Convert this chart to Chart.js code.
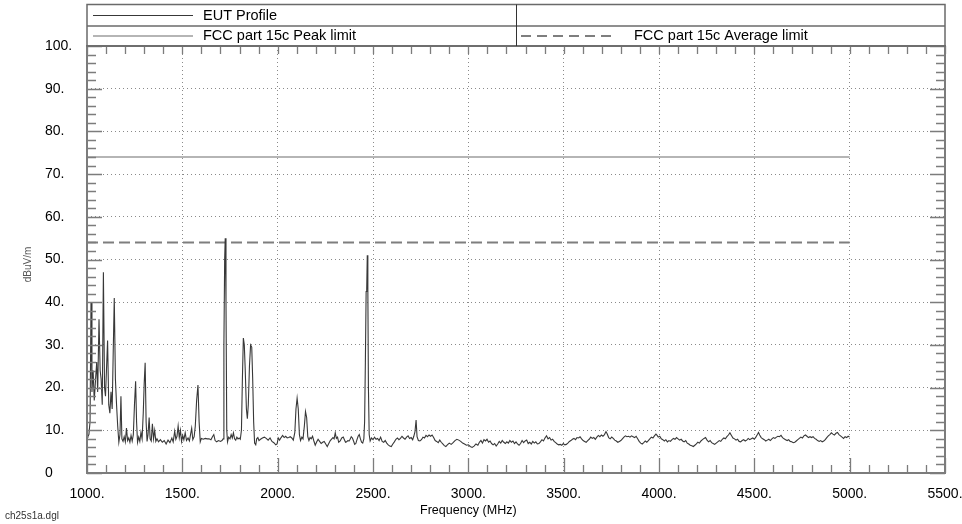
<!DOCTYPE html>
<html>
<head>
<meta charset="utf-8">
<script src="https://cdn.jsdelivr.net/npm/chart.js@4.4.1/dist/chart.umd.min.js"></script>
<style>
  html, body { margin: 0; padding: 0; background: #fff; }
  canvas { display: block; }
</style>
</head>
<body>
<canvas id="c" width="962" height="524"></canvas>
<script>
// Radiated emission scan, 1 GHz - 5 GHz
const freqMHz = [
  1000, 1005, 1010, 1016, 1021, 1026, 1032, 1038, 1045, 1051, 1056, 1063, 1069, 1074, 1080, 1086,
  1092, 1097, 1102, 1108, 1114, 1120, 1126, 1132, 1137, 1143, 1149, 1155, 1161, 1167, 1173, 1178,
  1183, 1189, 1195, 1201, 1207, 1213, 1219, 1225, 1231, 1237, 1243, 1249, 1255, 1260, 1265, 1271,
  1277, 1283, 1289, 1295, 1300, 1305, 1310, 1315, 1320, 1326, 1331, 1337, 1343, 1349, 1355, 1361,
  1367, 1375, 1385, 1395, 1405, 1415, 1425, 1435, 1445, 1452, 1460, 1466, 1472, 1478, 1484, 1490,
  1496, 1502, 1508, 1515, 1522, 1530, 1537, 1543, 1549, 1555, 1562, 1568, 1575, 1582, 1588, 1594,
  1600, 1610, 1620, 1630, 1640, 1650, 1658, 1665, 1672, 1680, 1690, 1700, 1708, 1714, 1718, 1722,
  1725, 1729, 1733, 1737, 1743, 1750, 1756, 1762, 1768, 1774, 1780, 1786, 1792, 1798, 1804, 1810,
  1815, 1820, 1825, 1830, 1836, 1841, 1846, 1852, 1858, 1864, 1869, 1874, 1879, 1885, 1890, 1896,
  1902, 1910, 1920, 1930, 1940, 1950, 1960, 1970, 1980, 1990, 1997, 2003, 2010, 2018, 2026, 2034,
  2042, 2050, 2058, 2066, 2074, 2082, 2090, 2096, 2102, 2108, 2114, 2120, 2127, 2133, 2140, 2146,
  2152, 2158, 2164, 2170, 2176, 2183, 2190, 2197, 2205, 2212, 2220, 2228, 2236, 2244, 2252, 2260,
  2268, 2276, 2284, 2290, 2296, 2302, 2308, 2314, 2320, 2328, 2336, 2344, 2350, 2356, 2362, 2368,
  2374, 2380, 2386, 2392, 2398, 2404, 2410, 2416, 2422, 2428, 2434, 2440, 2446, 2452, 2456, 2460,
  2464, 2467, 2470, 2473, 2476, 2480, 2485, 2492, 2500, 2508, 2516, 2524, 2532, 2540, 2548, 2556,
  2564, 2572, 2580, 2588, 2596, 2604, 2612, 2620, 2628, 2636, 2644, 2652, 2660, 2668, 2676, 2684,
  2692, 2700, 2708, 2714, 2720, 2726, 2731, 2738, 2746, 2754, 2762, 2770, 2778, 2786, 2794, 2802,
  2810, 2818, 2826, 2834, 2842, 2850, 2858, 2866, 2874, 2882, 2890, 2900, 2910, 2920, 2930, 2940,
  2950, 2960, 2970, 2980, 2990, 3000, 3010, 3020, 3030, 3040, 3050, 3058, 3066, 3074, 3082, 3090,
  3098, 3106, 3114, 3122, 3130, 3138, 3146, 3154, 3162, 3170, 3178, 3186, 3194, 3202, 3210, 3218,
  3226, 3234, 3242, 3250, 3258, 3266, 3274, 3282, 3290, 3298, 3306, 3314, 3322, 3330, 3338, 3346,
  3354, 3362, 3370, 3378, 3386, 3394, 3402, 3410, 3418, 3426, 3434, 3442, 3450, 3458, 3466, 3474,
  3482, 3490, 3498, 3506, 3514, 3522, 3530, 3538, 3546, 3554, 3562, 3570, 3578, 3586, 3594, 3602,
  3610, 3618, 3626, 3634, 3642, 3650, 3658, 3666, 3674, 3682, 3690, 3698, 3706, 3714, 3722, 3728,
  3736, 3744, 3752, 3760, 3768, 3776, 3784, 3792, 3800, 3808, 3816, 3824, 3832, 3840, 3848, 3856,
  3864, 3872, 3880, 3888, 3896, 3904, 3912, 3920, 3928, 3936, 3944, 3952, 3960, 3968, 3976, 3984,
  3990, 3996, 4004, 4012, 4020, 4028, 4036, 4044, 4052, 4060, 4068, 4076, 4084, 4092, 4100, 4108,
  4116, 4124, 4132, 4140, 4148, 4156, 4164, 4172, 4180, 4188, 4196, 4204, 4212, 4220, 4228, 4236,
  4244, 4252, 4260, 4268, 4276, 4284, 4292, 4300, 4308, 4316, 4324, 4332, 4340, 4348, 4356, 4364,
  4372, 4380, 4388, 4396, 4404, 4412, 4420, 4428, 4436, 4444, 4452, 4460, 4468, 4476, 4484, 4492,
  4500, 4508, 4516, 4522, 4528, 4536, 4544, 4552, 4560, 4568, 4576, 4584, 4592, 4600, 4608, 4616,
  4624, 4632, 4640, 4648, 4656, 4664, 4672, 4680, 4688, 4696, 4704, 4712, 4720, 4728, 4736, 4744,
  4752, 4760, 4768, 4776, 4784, 4792, 4800, 4808, 4816, 4824, 4832, 4840, 4848, 4856, 4864, 4872,
  4880, 4888, 4896, 4904, 4912, 4920, 4928, 4936, 4944, 4952, 4960, 4968, 4976, 4984, 4992, 5000
];

const eutLevel = [
  8.4, 8.6, 9.0, 12, 40, 19, 24, 17, 22, 26, 19, 36, 24, 22, 16, 47,
  20, 18, 24, 31, 16, 14, 19, 15, 27, 41, 22, 16, 11, 7.2, 9.0, 18,
  8.0, 7.4, 8.5, 7.3, 10.5, 7.6, 8.2, 7.2, 8.8, 7.5, 9.0, 16, 21.5, 12, 7.2, 8.4,
  7.4, 9.5, 8.0, 14, 21, 25.8, 12, 7.4, 9.0, 13, 8.0, 7.5, 11.5, 8.0, 10, 7.4,
  8.0, 7.3, 7.8, 7.2, 7.6, 6.8, 7.7, 7.1, 8.2, 7.3, 9.8, 7.9, 8.6, 11, 8.3, 10,
  7.4, 8.8, 7.8, 9.4, 7.6, 8.2, 7.5, 9.0, 10.5, 7.8, 8.5, 11, 17, 20.6, 12, 7.3,
  8.1, 7.9, 8.1, 8.0, 8.0, 7.8, 8.5, 9.0, 7.6, 7.3, 7.6, 7.4, 7.6, 8.0, 30, 50,
  55, 40, 10, 7.3, 8.4, 8.0, 9.0, 8.2, 9.4, 8.0, 7.7, 8.4, 8.0, 8.2, 7.9, 10,
  22, 31.6, 30, 24, 15, 12.7, 16, 25, 30, 29.5, 22, 12, 7.0, 6.6, 8.0, 8.3,
  7.6, 7.9, 8.2, 8.4, 8.1, 7.7, 8.2, 7.4, 7.1, 6.6, 6.8, 8.2, 7.7, 8.3, 8.8, 8.3,
  8.6, 8.2, 8.3, 8.5, 8.2, 7.7, 9.5, 15, 17.5, 15, 9.0, 7.6, 8.4, 8.0, 11, 14.4,
  13, 8.5, 7.6, 8.3, 8.0, 8.6, 7.5, 6.5, 7.3, 7.9, 7.4, 6.9, 7.2, 7.4, 6.8, 6.2,
  6.9, 7.6, 8.0, 8.3, 8.0, 9.4, 8.1, 8.4, 7.2, 7.5, 8.2, 8.4, 7.8, 7.2, 7.3, 7.6,
  7.5, 7.9, 8.5, 8.2, 7.5, 6.7, 6.9, 7.8, 8.6, 9.0, 8.0, 7.2, 7.0, 8.0, 12, 26,
  42.5, 43, 51, 43, 20, 9.0, 7.5, 8.2, 7.8, 8.4, 7.9, 8.1, 7.6, 8.4, 7.4, 7.2,
  7.6, 7.0, 6.6, 6.3, 6.2, 6.8, 7.3, 7.9, 8.2, 7.8, 8.1, 8.6, 8.2, 7.9, 8.4, 8.7,
  8.1, 8.3, 7.8, 8.6, 9.6, 12.4, 8.5, 7.6, 7.5, 7.8, 8.4, 8.2, 8.8, 8.5, 8.9, 8.6,
  8.9, 8.3, 7.6, 7.4, 7.1, 7.7, 7.2, 6.8, 6.4, 6.2, 6.6, 7.0, 6.7, 7.1, 7.6, 7.9,
  7.7, 7.4, 7.0, 6.8, 6.5, 6.6, 6.2, 6.0, 6.3, 6.8, 6.5, 7.2, 7.6, 7.0, 7.8, 7.5,
  7.9, 7.2, 7.5, 6.9, 6.6, 6.9, 6.3, 6.8, 7.4, 7.0, 7.6, 7.2, 6.9, 7.3, 7.0, 7.6,
  7.2, 7.5, 6.9, 7.3, 6.8, 6.5, 6.9, 7.6, 7.1, 7.5, 7.7, 6.9, 7.2, 6.8, 7.4, 7.0,
  7.3, 6.8, 6.9, 7.3, 7.8, 7.5, 8.2, 8.7, 8.0, 8.3, 7.7, 7.9, 7.4, 7.1, 6.8, 6.6,
  6.7, 6.5, 6.9, 6.6, 6.7, 7.0, 7.4, 7.6, 7.9, 8.1, 7.8, 8.3, 8.2, 8.5, 8.0, 7.6,
  7.4, 7.2, 7.6, 7.9, 8.4, 8.1, 8.3, 7.9, 8.4, 8.8, 8.5, 8.9, 8.6, 9.0, 9.7, 9.2,
  8.3, 8.0, 8.4, 8.1, 7.7, 7.5, 7.2, 7.4, 7.6, 8.0, 8.4, 8.7, 8.5, 8.6, 8.4, 8.7,
  8.5, 8.3, 8.6, 8.0, 7.4, 7.0, 6.8, 7.1, 7.5, 7.2, 7.6, 8.0, 8.4, 8.2, 8.7, 9.1,
  8.8, 8.4, 8.6, 8.0, 7.8, 7.5, 7.8, 7.3, 7.6, 7.4, 7.8, 8.1, 7.9, 8.3, 8.0, 7.7,
  7.9, 7.5, 7.3, 7.6, 7.0, 6.8, 6.5, 6.4, 6.2, 6.5, 6.8, 7.2, 7.0, 7.5, 7.8, 8.1,
  8.3, 7.7, 7.3, 7.6, 7.1, 6.9, 6.7, 7.0, 7.3, 7.6, 7.4, 7.9, 8.2, 8.0, 8.5, 8.9,
  9.4, 8.8, 8.2, 8.0, 7.7, 7.9, 7.4, 7.3, 7.6, 7.8, 7.5, 7.7, 8.1, 7.8, 8.0, 8.2,
  7.9, 8.4, 9.0, 9.5, 8.9, 8.3, 8.0, 7.8, 7.5, 7.7, 7.9, 7.6, 8.0, 8.3, 8.1, 8.4,
  8.6, 8.5, 8.8, 8.3, 8.0, 7.8, 7.6, 7.8, 7.4, 7.3, 7.1, 7.2, 7.5, 7.8, 8.1, 8.4,
  8.2, 8.7, 8.9, 8.6, 8.3, 8.5, 8.3, 8.5, 8.1, 7.9, 7.6, 7.4, 7.6, 7.3, 7.5, 7.8,
  8.3, 8.7, 9.0, 9.4, 9.1, 8.9, 9.3, 9.5, 9.0, 8.7, 8.4, 8.1, 8.5, 8.3, 8.6, 8.4
];

// Limit lines (dBuV/m) over the measured band
const limitFreq = [1000, 5000];
const peakLimit = [74, 74];
const avgLimit = [54, 54];

const seriesNames = ['EUT Profile', 'FCC part 15c Peak limit', 'FCC part 15c Average limit'];

// Axis ticks
const xTickValues = [1000, 1500, 2000, 2500, 3000, 3500, 4000, 4500, 5000, 5500];
const xTickLabels = ['1000.', '1500.', '2000.', '2500.', '3000.', '3500.', '4000.', '4500.', '5000.', '5500.'];
const yTickValues = [0, 10, 20, 30, 40, 50, 60, 70, 80, 90, 100];
const yTickLabels = ['0', '10.', '20.', '30.', '40.', '50.', '60.', '70.', '80.', '90.', '100.'];

const xTitle = 'Frequency (MHz)';
const yTitle = 'dBuV/m';
const fileTag = 'ch25s1a.dgl';

const FONT = "'Liberation Sans', Arial, sans-serif";
const FRAME = '#7c7c7c';

const toPoints = (xs, ys) => xs.map((x, i) => ({ x, y: ys[i] }));

// Frame, inward minor/major tick marks, legend table and captions
const decorations = {
  id: 'decorations',
  afterDraw(chart) {
    const { ctx, chartArea: a, scales: { x, y } } = chart;
    ctx.save();

    // inward tick marks on all four sides
    ctx.strokeStyle = FRAME;
    ctx.lineWidth = 1.3;
    ctx.beginPath();
    for (let f = x.min; f <= x.max; f += 100) {
      const px = Math.round(x.getPixelForValue(f)) + 0.5;
      const len = (f % 500 === 0) ? 15 : 8;
      ctx.moveTo(px, a.bottom); ctx.lineTo(px, a.bottom - len);
      ctx.moveTo(px, a.top); ctx.lineTo(px, a.top + 8);
    }
    for (let v = y.min; v <= y.max; v += 2) {
      const py = Math.round(y.getPixelForValue(v)) + 0.5;
      const len = (v % 10 === 0) ? 15 : 9;
      ctx.moveTo(a.left, py); ctx.lineTo(a.left + len, py);
      ctx.moveTo(a.right, py); ctx.lineTo(a.right - len, py);
    }
    ctx.stroke();

    // plot frame
    ctx.lineWidth = 2;
    ctx.strokeRect(a.left, a.top, a.right - a.left, a.bottom - a.top);

    // legend table above the plot
    const top = 4.5, mid = 26, bot = a.top;
    const split = 516;
    ctx.strokeStyle = '#6a6a6a';
    ctx.lineWidth = 1.5;
    ctx.strokeRect(a.left, top, a.right - a.left, bot - top);
    ctx.beginPath();
    ctx.moveTo(a.left, mid); ctx.lineTo(a.right, mid);
    ctx.stroke();
    ctx.strokeStyle = '#333';
    ctx.lineWidth = 1;
    ctx.beginPath();
    ctx.moveTo(split + 0.5, top); ctx.lineTo(split + 0.5, bot);
    ctx.stroke();

    const row1 = 15.5, row2 = 36;
    const ds = chart.data.datasets;
    const sample = (x0, x1, yy, d, dash) => {
      ctx.save();
      ctx.strokeStyle = d.borderColor;
      ctx.lineWidth = d.borderWidth;
      ctx.setLineDash(dash || []);
      ctx.beginPath(); ctx.moveTo(x0, yy); ctx.lineTo(x1, yy); ctx.stroke();
      ctx.restore();
    };
    sample(93, 193, row1, ds[0]);
    sample(93, 193, row2, ds[1]);
    sample(521, 611, row2, ds[2], [10, 6]);

    ctx.fillStyle = '#000';
    ctx.font = `14.5px ${FONT}`;
    ctx.textBaseline = 'middle';
    ctx.textAlign = 'left';
    ctx.fillText(ds[0].label, 203, row1);
    ctx.fillText(ds[1].label, 203, row2);
    ctx.fillText(ds[2].label, 634, row2);

    // frequency axis caption, centred under the 3000 MHz mark
    ctx.fillStyle = '#000';
    ctx.font = `12.5px ${FONT}`;
    ctx.textAlign = 'center';
    ctx.fillText(xTitle, x.getPixelForValue(3000), 511);

    // vertical unit caption
    ctx.save();
    ctx.fillStyle = '#555';
    ctx.font = `10px ${FONT}`;
    ctx.translate(28, (a.top + a.bottom) / 2 + 5);
    ctx.rotate(-Math.PI / 2);
    ctx.textAlign = 'center';
    ctx.fillText(yTitle, 0, 0);
    ctx.restore();

    // file tag, bottom left
    ctx.fillStyle = '#333';
    ctx.font = `10px ${FONT}`;
    ctx.textAlign = 'left';
    ctx.fillText(fileTag, 5, 516);

    ctx.restore();
  }
};

new Chart(document.getElementById('c'), {
  type: 'line',
  data: {
    datasets: [
      {
        label: seriesNames[0],
        data: toPoints(freqMHz, eutLevel),
        borderColor: '#383838',
        borderWidth: 1.1,
        pointRadius: 0,
        tension: 0,
        order: 0
      },
      {
        label: seriesNames[1],
        data: toPoints(limitFreq, peakLimit),
        borderColor: '#9c9c9c',
        borderWidth: 1.6,
        pointRadius: 0,
        order: 1
      },
      {
        label: seriesNames[2],
        data: toPoints(limitFreq, avgLimit),
        borderColor: '#7e7e7e',
        borderWidth: 2,
        borderDash: [11, 5],
        pointRadius: 0,
        order: 2
      }
    ]
  },
  options: {
    responsive: false,
    animation: false,
    devicePixelRatio: 1,
    layout: { padding: { top: 46, right: 17, left: 45, bottom: 0 } },
    plugins: { legend: { display: false }, tooltip: { enabled: false } },
    scales: {
      x: {
        type: 'linear',
        min: 1000,
        max: 5500,
        afterBuildTicks: s => { s.ticks = xTickValues.map(v => ({ value: v })); },
        afterFit: s => { s.height = 51; s.paddingLeft = 0; s.paddingRight = 0; },
        ticks: {
          callback: (v) => xTickLabels[xTickValues.indexOf(v)],
          color: '#000',
          font: { family: FONT, size: 14 },
          padding: 13,
          maxRotation: 0,
          autoSkip: false
        },
        grid: { color: '#8a8a8a', lineWidth: 1, drawTicks: false },
        border: { display: false, dash: [1, 3] }
      },
      y: {
        min: 0,
        max: 100,
        afterBuildTicks: s => { s.ticks = yTickValues.map(v => ({ value: v })); },
        afterFit: s => { s.width = 42; s.paddingTop = 0; s.paddingBottom = 0; },
        ticks: {
          callback: (v) => yTickLabels[yTickValues.indexOf(v)],
          color: '#000',
          font: { family: FONT, size: 14 },
          crossAlign: 'far',
          padding: 10,
          autoSkip: false
        },
        grid: { color: '#8a8a8a', lineWidth: 1, drawTicks: false },
        border: { display: false, dash: [1, 3] }
      }
    }
  },
  plugins: [decorations]
});
</script>
</body>
</html>
